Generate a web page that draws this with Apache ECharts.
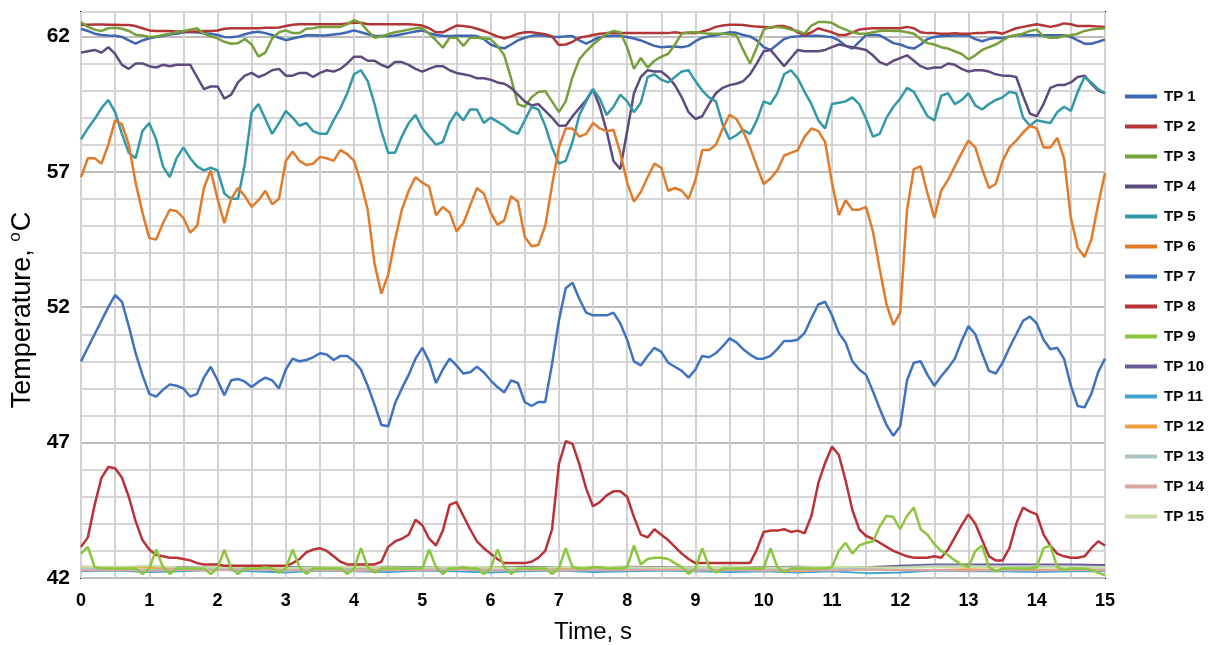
<!DOCTYPE html>
<html>
<head>
<meta charset="utf-8">
<script src="https://cdn.jsdelivr.net/npm/echarts@6/dist/echarts.min.js"></script>
<style>
  html, body { margin: 0; padding: 0; background: #fff; }
  #chart { width: 1214px; height: 645px; }
</style>
</head>
<body>
<div id="chart"></div>
<script>
// sample times, s (0.1 s step for the main probes, 0.5 s for the flat ones)
const time = [];
for (let i = 0; i <= 150; i++) time.push(i / 10);
const timeHalf = [];
for (let i = 0; i <= 30; i++) timeHalf.push(i / 2);

const xTicks = [0, 1, 2, 3, 4, 5, 6, 7, 8, 9, 10, 11, 12, 13, 14, 15];
const yTicks = [42, 47, 52, 57, 62];

const tp1 = [62.28,62.2,62.1,62.05,62.03,62.02,61.98,61.85,61.73,61.85,
  61.93,61.98,62.02,62.07,62.1,62.15,62.16,62.14,62.12,62.1,
  62.05,61.98,61.97,62.0,62.08,62.14,62.17,62.12,62.05,61.95,
  61.86,61.92,61.98,62.04,62.04,62.03,62.04,62.07,62.1,62.15,
  62.22,62.15,62.08,62.02,62.01,62.0,62.03,62.08,62.13,62.18,
  62.22,62.12,62.05,62.02,62.01,62.02,62.02,62.02,62.01,61.9,
  61.7,61.6,61.56,61.7,61.85,61.95,62.02,62.04,62.02,61.99,
  61.98,62.0,62.01,61.85,61.73,61.85,61.97,62.01,62.02,62.02,
  61.98,61.92,61.85,61.75,61.65,61.6,61.62,61.63,61.6,61.65,
  61.82,61.95,62.0,62.04,62.1,62.15,62.13,62.05,62.0,61.85,
  61.6,61.5,61.7,61.9,61.98,62.0,62.02,62.02,62.02,62.0,
  61.97,61.85,61.65,61.55,61.8,62.05,62.06,62.04,61.9,61.75,
  61.7,61.6,61.55,61.7,61.9,61.98,62.01,62.02,62.03,62.04,
  62.03,61.9,61.82,61.9,61.95,61.93,62.0,62.04,62.05,62.04,
  62.04,62.04,62.04,62.04,62.04,61.98,61.85,61.73,61.73,61.8,
  61.88];
const tp2 = [62.43,62.43,62.44,62.44,62.43,62.43,62.42,62.42,62.38,62.3,
  62.22,62.2,62.2,62.2,62.18,62.18,62.18,62.18,62.2,62.2,
  62.22,62.28,62.3,62.3,62.3,62.3,62.3,62.32,62.32,62.33,
  62.38,62.43,62.45,62.45,62.45,62.45,62.45,62.45,62.45,62.48,
  62.5,62.5,62.45,62.45,62.45,62.45,62.45,62.45,62.45,62.43,
  62.4,62.3,62.15,62.15,62.28,62.4,62.38,62.35,62.28,62.2,
  62.1,62.0,61.92,62.0,62.1,62.15,62.15,62.12,62.08,62.0,
  61.68,61.7,61.8,61.95,62.0,62.05,62.1,62.12,62.12,62.12,
  62.12,62.12,62.12,62.12,62.12,62.12,62.12,62.15,62.12,62.12,
  62.12,62.18,62.25,62.35,62.4,62.43,62.43,62.42,62.38,62.36,
  62.35,62.32,62.38,62.38,62.3,62.15,62.05,62.15,62.3,62.22,
  62.15,62.05,62.05,62.15,62.25,62.28,62.3,62.3,62.3,62.3,
  62.3,62.35,62.3,62.15,62.12,62.12,62.1,62.1,62.12,62.1,
  62.1,62.12,62.12,62.15,62.15,62.1,62.2,62.3,62.35,62.4,
  62.45,62.4,62.35,62.4,62.48,62.45,62.38,62.38,62.38,62.36,
  62.35];
const tp3 = [62.53,62.35,62.25,62.2,62.3,62.32,62.28,62.2,62.06,62.03,
  61.98,62.0,62.05,62.1,62.15,62.2,62.25,62.3,62.1,62.0,
  61.93,61.8,61.73,61.75,61.9,61.7,61.25,61.4,61.92,62.15,
  62.22,62.12,62.12,62.28,62.3,62.35,62.35,62.35,62.35,62.45,
  62.6,62.5,62.2,61.95,62.0,62.08,62.15,62.2,62.25,62.3,
  62.3,62.1,61.85,61.58,61.95,61.95,61.65,61.95,61.95,61.92,
  61.9,61.65,61.3,60.45,59.5,59.4,59.75,59.95,59.98,59.6,
  59.2,59.6,60.5,61.15,61.45,61.7,61.9,62.1,62.2,62.15,
  61.6,60.8,61.2,60.85,61.1,61.25,61.35,61.7,62.1,62.15,
  62.15,62.12,62.1,62.1,62.1,62.08,62.04,61.5,61.0,61.6,
  62.25,62.35,62.35,62.32,62.25,62.2,62.1,62.4,62.53,62.53,
  62.5,62.35,62.25,62.15,62.1,62.1,62.15,62.2,62.22,62.2,
  62.2,62.15,62.1,61.9,61.75,61.7,61.6,61.55,61.45,61.35,
  61.15,61.3,61.5,61.6,61.7,61.85,62.0,62.05,62.1,62.2,
  62.25,62.0,61.95,61.95,62.02,62.04,62.1,62.2,62.25,62.28,
  62.3];
const tp4 = [61.4,61.45,61.5,61.4,61.6,61.35,60.95,60.8,61.0,61.0,
  60.9,60.85,60.95,60.9,60.95,60.95,60.95,60.5,60.05,60.15,
  60.15,59.7,59.85,60.3,60.55,60.65,60.5,60.6,60.75,60.8,
  60.55,60.55,60.65,60.65,60.5,60.65,60.75,60.7,60.8,61.0,
  61.25,61.25,61.1,61.1,60.95,60.85,61.05,61.05,60.95,60.8,
  60.7,60.8,60.9,60.9,60.75,60.65,60.6,60.55,60.45,60.45,
  60.4,60.3,60.25,60.1,59.85,59.6,59.45,59.5,59.25,59.0,
  58.7,58.7,59.05,59.35,59.65,60.05,59.4,58.5,57.4,57.1,
  58.5,59.9,60.5,60.75,60.7,60.7,60.5,60.2,59.75,59.2,
  58.95,59.05,59.5,59.9,60.1,60.2,60.25,60.35,60.6,61.0,
  61.45,61.5,61.2,60.9,61.2,61.5,61.45,61.45,61.45,61.5,
  61.6,61.7,61.65,61.6,61.55,61.5,61.3,61.05,60.95,61.1,
  61.2,61.3,61.1,60.9,60.8,60.85,60.85,61.0,60.95,60.8,
  60.7,60.75,60.75,60.7,60.6,60.55,60.55,60.5,59.8,59.15,
  59.05,59.5,60.1,60.2,60.2,60.3,60.5,60.55,60.25,60.0,
  59.9];
const tp5 = [58.2,58.6,58.95,59.35,59.65,59.2,58.4,57.7,57.5,58.5,
  58.8,58.2,57.2,56.8,57.5,57.9,57.5,57.2,57.05,57.15,
  57.05,56.2,56.0,56.0,57.3,59.2,59.5,58.95,58.4,58.8,
  59.25,59.0,58.7,58.8,58.5,58.4,58.4,58.9,59.35,59.9,
  60.6,60.75,60.35,59.5,58.5,57.7,57.7,58.3,58.8,59.1,
  58.6,58.3,58.0,58.1,58.8,59.2,58.9,59.3,59.3,58.8,
  59.0,58.85,58.7,58.5,58.4,58.9,59.4,59.3,58.7,57.9,
  57.3,57.4,58.1,59.1,59.6,60.05,59.7,59.1,59.4,59.85,
  59.6,59.2,59.55,60.5,60.6,60.4,60.3,60.5,60.7,60.75,
  60.35,60.0,59.75,59.6,58.75,58.2,58.35,58.55,58.4,58.9,
  59.6,59.5,59.9,60.6,60.75,60.45,59.95,59.5,58.9,58.6,
  59.5,59.55,59.6,59.75,59.5,58.95,58.3,58.4,59.0,59.4,
  59.7,60.1,59.95,59.5,59.05,58.9,59.8,59.9,59.5,59.65,
  59.9,59.45,59.3,59.5,59.65,59.75,59.95,59.9,59.0,58.7,
  58.9,58.85,58.8,59.2,59.4,59.25,59.95,60.5,60.3,60.05,
  59.9];
const tp6 = [56.8,57.5,57.5,57.3,58.0,58.9,58.75,58.0,56.6,55.5,
  54.55,54.5,55.1,55.6,55.55,55.3,54.75,55.0,56.4,57.05,
  56.0,55.1,56.0,56.4,56.1,55.7,55.95,56.3,55.8,56.0,
  57.4,57.75,57.4,57.25,57.3,57.55,57.5,57.4,57.8,57.65,
  57.4,56.6,55.6,53.6,52.5,53.2,54.5,55.6,56.3,56.8,
  56.6,56.45,55.4,55.7,55.5,54.8,55.1,55.75,56.4,56.2,
  55.5,55.05,55.2,56.1,55.9,54.6,54.25,54.3,55.0,56.5,
  57.9,58.6,58.6,58.3,58.4,58.8,58.6,58.5,58.55,57.7,
  56.6,55.9,56.25,56.8,57.3,57.15,56.3,56.4,56.3,56.0,
  56.7,57.8,57.8,58.0,58.6,59.1,58.95,58.5,57.9,57.2,
  56.55,56.75,57.05,57.6,57.7,57.8,58.3,58.6,58.5,58.1,
  56.6,55.4,55.95,55.6,55.6,55.7,54.8,53.4,52.1,51.35,
  51.8,55.6,57.1,57.2,56.2,55.3,56.3,56.7,57.2,57.7,
  58.15,57.9,57.1,56.4,56.55,57.4,57.9,58.15,58.45,58.7,
  58.6,57.9,57.9,58.25,57.5,55.3,54.2,53.85,54.5,55.8,
  56.95];
const tp7 = [50.0,50.5,51.0,51.5,52.0,52.45,52.2,51.3,50.3,49.5,
  48.8,48.7,48.95,49.15,49.1,49.0,48.7,48.8,49.4,49.8,
  49.3,48.75,49.3,49.35,49.25,49.05,49.25,49.4,49.3,49.0,
  49.7,50.1,50.0,50.05,50.15,50.3,50.25,50.05,50.2,50.2,
  50.0,49.7,49.1,48.4,47.65,47.6,48.45,49.0,49.5,50.1,
  50.5,50.0,49.2,49.7,50.1,49.85,49.55,49.6,49.8,49.6,
  49.3,49.05,48.85,49.3,49.2,48.5,48.35,48.5,48.5,49.9,
  51.5,52.7,52.9,52.3,51.8,51.7,51.7,51.7,51.8,51.4,
  50.8,50.0,49.85,50.2,50.5,50.35,49.95,49.8,49.65,49.4,
  49.7,50.2,50.15,50.3,50.55,50.85,50.7,50.45,50.25,50.1,
  50.1,50.2,50.45,50.75,50.75,50.8,51.05,51.6,52.1,52.2,
  51.7,51.05,50.7,50.0,49.7,49.5,48.9,48.25,47.65,47.25,
  47.6,49.3,49.95,50.0,49.5,49.1,49.45,49.75,50.1,50.75,
  51.3,51.0,50.3,49.65,49.55,49.95,50.5,51.0,51.5,51.65,
  51.4,50.8,50.45,50.5,50.1,49.1,48.35,48.3,48.8,49.6,
  50.1];
const tp8 = [43.15,43.5,44.7,45.7,46.1,46.05,45.7,45.0,44.1,43.4,
  43.05,42.85,42.8,42.75,42.75,42.7,42.65,42.55,42.5,42.5,
  42.5,42.45,42.45,42.45,42.45,42.45,42.45,42.45,42.45,42.45,
  42.45,42.55,42.7,42.95,43.05,43.1,43.0,42.8,42.6,42.5,
  42.5,42.5,42.5,42.5,42.6,43.15,43.35,43.45,43.6,44.15,
  43.95,43.45,43.2,43.75,44.7,44.8,44.3,43.8,43.35,43.1,
  42.9,42.7,42.55,42.55,42.55,42.55,42.6,42.75,43.0,43.8,
  46.2,47.05,46.95,46.2,45.3,44.65,44.8,45.05,45.2,45.2,
  45.0,44.25,43.6,43.5,43.8,43.6,43.4,43.15,42.9,42.7,
  42.55,42.55,42.55,42.55,42.55,42.55,42.55,42.55,42.55,43.05,
  43.7,43.75,43.75,43.8,43.7,43.75,43.65,44.3,45.5,46.25,
  46.85,46.55,45.6,44.5,43.8,43.55,43.45,43.3,43.15,43.0,
  42.9,42.8,42.75,42.75,42.75,42.8,42.75,43.05,43.5,43.95,
  44.35,44.0,43.4,42.8,42.65,42.65,43.1,44.0,44.6,44.45,
  44.35,43.6,43.2,42.9,42.8,42.75,42.75,42.8,43.1,43.35,
  43.2];
const tp9 = [42.9,43.15,42.4,42.35,42.35,42.35,42.35,42.35,42.35,42.15,
  42.35,43.05,42.4,42.15,42.35,42.35,42.35,42.35,42.35,42.15,
  42.35,43.05,42.35,42.15,42.35,42.35,42.35,42.4,42.35,42.2,
  42.35,43.05,42.4,42.15,42.35,42.35,42.35,42.35,42.35,42.15,
  42.35,43.1,42.4,42.2,42.35,42.35,42.35,42.35,42.35,42.35,
  42.35,43.05,42.4,42.15,42.35,42.35,42.4,42.35,42.35,42.15,
  42.35,43.05,42.4,42.15,42.35,42.35,42.35,42.35,42.35,42.15,
  42.35,43.1,42.4,42.35,42.35,42.4,42.4,42.35,42.35,42.35,
  42.4,43.2,42.5,42.7,42.75,42.75,42.7,42.55,42.4,42.15,
  42.35,43.1,42.4,42.2,42.35,42.35,42.35,42.35,42.35,42.35,
  42.35,43.1,42.4,42.2,42.35,42.35,42.35,42.35,42.35,42.35,
  42.4,43.0,43.3,42.9,43.2,43.3,43.35,43.9,44.3,44.25,
  43.8,44.3,44.6,43.8,43.6,43.25,43.0,42.85,42.65,42.5,
  42.4,43.0,43.2,42.4,42.25,42.35,42.35,42.35,42.35,42.35,
  42.4,43.1,43.2,42.4,42.3,42.35,42.35,42.35,42.3,42.2,
  42.1];
const tp10 = [42.42,42.4,42.42,42.4,42.38,42.4,42.42,42.4,42.4,42.42,42.4,42.38,42.4,42.42,42.4,42.4,
  42.42,42.4,42.4,42.42,42.4,42.42,42.4,42.4,42.45,42.5,42.5,42.5,42.5,42.5,42.48];
const tp11 = [42.25,42.28,42.22,42.25,42.3,42.25,42.2,42.28,42.25,42.22,42.28,42.25,42.2,42.25,42.28,42.22,
  42.25,42.28,42.25,42.22,42.25,42.2,42.25,42.18,42.2,42.28,42.25,42.25,42.22,42.25,42.25];
const tp12 = [42.4,42.42,42.38,42.35,42.3,42.35,42.32,42.3,42.35,42.3,42.32,42.35,42.3,42.3,42.35,42.32,
  42.3,42.35,42.3,42.32,42.3,42.25,42.3,42.32,42.3,42.3,42.32,42.3,42.3,42.32,42.3];
const tp13 = [42.32,42.35,42.3,42.32,42.35,42.32,42.3,42.35,42.32,42.3,42.35,42.32,42.3,42.35,42.3,42.32,
  42.35,42.3,42.32,42.3,42.35,42.3,42.32,42.35,42.4,42.45,42.45,42.42,42.45,42.4,42.38];
const tp14 = [42.28,42.3,42.27,42.3,42.29,42.31,42.28,42.3,42.26,42.3,42.29,42.31,42.28,42.3,42.27,42.3,
  42.29,42.31,42.28,42.3,42.27,42.3,42.28,42.31,42.29,42.3,42.27,42.3,42.28,42.3,42.28];
const tp15 = [42.42,42.4,42.45,42.38,42.4,42.42,42.38,42.4,42.42,42.4,42.38,42.42,42.4,42.38,42.4,42.42,
  42.4,42.38,42.4,42.42,42.38,42.4,42.42,42.4,42.38,42.4,42.42,42.4,42.38,42.4,42.4];

const names = ['TP 1','TP 2','TP 3','TP 4','TP 5','TP 6','TP 7','TP 8','TP 9','TP 10','TP 11','TP 12','TP 13','TP 14','TP 15'];
const colors = ['#3f66b0','#b23636','#77a03c','#5e4b7d','#3398a8','#e07b2c','#3f72c0','#b83338','#8cc63f',
  '#6a5a9a','#45a3d3','#f0a040','#a9c3c3','#d9a6a6','#c9dca6'];
const values = [tp1,tp2,tp3,tp4,tp5,tp6,tp7,tp8,tp9,tp10,tp11,tp12,tp13,tp14,tp15];

const font = '"Liberation Sans", Arial, sans-serif';

function makeSeries () {
    let arr = [];
    for (let i = 0; i < names.length; i++) {
        let t = values[i].length === time.length ? time : timeHalf;
        arr.push({
            name: names[i],
            type: 'line',
            symbol: 'none',
            smooth: false,
            z: i < 9 ? 3 : 2,
            lineStyle: { width: i < 9 ? 2.5 : 2, color: colors[i] },
            itemStyle: { color: colors[i] },
            data: values[i].map((v, k) => [t[k], v])
        });
    }
    return arr;
}

let option = {
    backgroundColor: '#fff',
    animation: false,
    grid: {
        left: 81, right: 109, top: 12, bottom: 67,
        outerBoundsMode: 'none',
        containLabel: false,
        show: true,
        borderColor: '#000',
        borderWidth: 2,
        backgroundColor: '#fff'
    },
    legend: {
        orient: 'vertical',
        left: 1120,
        top: 84,
        icon: 'rect',
        itemWidth: 32,
        itemHeight: 4,
        itemGap: 15,
        data: names,
        textStyle: { color: '#000', fontWeight: 'bold', fontSize: 15, fontFamily: font, padding: [0, 0, 0, 2] }
    },
    xAxis: {
        type: 'value',
        min: 0,
        max: 15,
        interval: 0.5,
        name: 'Time, s',
        nameLocation: 'middle',
        nameGap: 42,
        nameTextStyle: { color: '#000', fontSize: 24, fontFamily: font },
        axisLine: { show: false },
        axisTick: { show: false },
        axisLabel: {
            color: '#000', fontWeight: 'bold', fontSize: 18, fontFamily: font, margin: 14,
            formatter: function (v) { return xTicks.indexOf(v) >= 0 ? String(v) : ''; }
        },
        splitLine: { show: true, lineStyle: { color: '#d2d2d2', width: 2 } }
    },
    yAxis: {
        type: 'value',
        min: 42,
        max: 62.9,
        interval: 1,
        name: 'Temperature, {sup|o}C',
        nameLocation: 'middle',
        nameGap: 42,
        nameTextStyle: {
            color: '#000', fontSize: 27, fontFamily: font,
            padding: [0, 30, 0, 0],
            rich: { sup: { fontSize: 17, fontFamily: font, color: '#000', verticalAlign: 'top', padding: [0, 1, 13, 0] } }
        },
        axisLine: { show: false },
        axisTick: { show: false },
        axisLabel: {
            color: '#000', fontWeight: 'bold', fontSize: 21, fontFamily: font, margin: 11,
            formatter: function (v) { return yTicks.indexOf(v) >= 0 ? String(v) : ''; }
        },
        splitLine: {
            show: true,
            lineStyle: { color: ['#bdbdbd','#d6d6d6','#d6d6d6','#d6d6d6','#d6d6d6'], width: 2 }
        }
    },
    series: makeSeries()
};

let myChart = echarts.init(document.getElementById('chart'));
myChart.setOption(option);
</script>
</body>
</html>
